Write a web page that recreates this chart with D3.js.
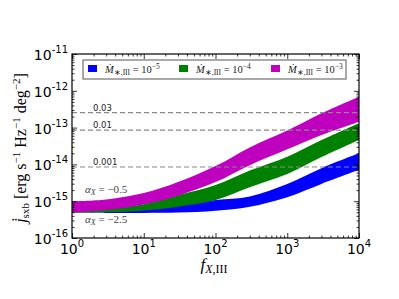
<!DOCTYPE html>
<html>
<head>
<meta charset="utf-8">
<script src="https://cdn.jsdelivr.net/npm/d3@7"></script>
<style>
  body { margin: 0; background: #fff; }
  svg { display: block; }
  .tick line { stroke: #000; }
</style>
</head>
<body>
<div id="chart"></div>
<script>
// Values (log-log).
const fX = [1, 3, 10, 30, 100, 300, 1000, 3000, 10000];

const m5Lower = [4.9e-16, 4.8e-16, 4.8e-16, 4.9e-16, 5.5e-16, 7.1e-16, 1.29e-15, 2.95e-15, 7.1e-15];
const m5Upper = [5.25e-16, 5.4e-16, 6.0e-16, 7.6e-16, 1.08e-15, 1.35e-15, 2.95e-15, 7.9e-15, 2.0e-14];

const m4Lower = [4.9e-16, 5.0e-16, 5.6e-16, 7.1e-16, 1.08e-15, 2.4e-15, 5.5e-15, 1.58e-14, 4.6e-14];
const m4Upper = [5.6e-16, 6.2e-16, 8.3e-16, 1.45e-15, 2.75e-15, 6.8e-15, 1.62e-14, 4.6e-14, 1.32e-13];

const m3Lower = [4.9e-16, 5.75e-16, 8.1e-16, 1.41e-15, 3.3e-15, 9.5e-15, 2.57e-14, 6.3e-14, 1.45e-13];
const m3Upper = [1.0e-15, 1.12e-15, 1.66e-15, 3.3e-15, 9.0e-15, 2.9e-14, 8.3e-14, 2.45e-13, 6.9e-13];

const seriesExp = ["−5", "−4", "−3"];
const seriesColors = ["#0000ff", "#008000", "#bf00bf"];

const fracLevels = [2.55e-13, 8.5e-14, 8.5e-15];
const fracLabels = ["0.03", "0.01", "0.001"];

const xTickExp = [0, 1, 2, 3, 4];
const yTickExp = [-16, -15, -14, -13, -12, -11];

const width = 399, height = 299;
const plotLeft = 72, plotRight = 359, plotTop = 54, plotBottom = 238;

const svg = d3.select("#chart").append("svg")
  .attr("width", width)
  .attr("height", height);

const x = d3.scaleLog().domain([1, 1e4]).range([plotLeft, plotRight]);
const y = d3.scaleLog().domain([1e-16, 1e-11]).range([plotBottom, plotTop]);

// Bands, blue first so magenta ends on top.
const bands = [
  [m5Lower, m5Upper],
  [m4Lower, m4Upper],
  [m3Lower, m3Upper]
];

const area = d3.area()
  .x(d => x(d.f))
  .y0(d => y(d.lo))
  .y1(d => y(d.hi))
  .curve(d3.curveCatmullRom.alpha(0.5));

const plot = svg.append("g");
bands.forEach((b, i) => {
  const rows = fX.map((f, k) => ({ f: f, lo: b[0][k], hi: b[1][k] }));
  plot.append("path")
    .datum(rows)
    .attr("fill", seriesColors[i])
    .attr("d", area);
});

// Dashed levels.
fracLevels.forEach((v, i) => {
  svg.append("line")
    .attr("x1", plotLeft).attr("x2", plotRight)
    .attr("y1", y(v)).attr("y2", y(v))
    .attr("stroke", "#8a8a8a")
    .attr("stroke-width", 1.2)
    .attr("stroke-dasharray", "5,3");
  svg.append("text")
    .attr("x", 93)
    .attr("y", y(v) - 2)
    .attr("font-family", "DejaVu Sans")
    .attr("font-size", 8.5)
    .attr("fill", "#222")
    .text(fracLabels[i]);
});

// Alpha annotations.
const alphaText = [["−0.5", 193], ["−2.5", 223]];
alphaText.forEach(a => {
  const t = svg.append("text")
    .attr("x", 85).attr("y", a[1])
    .attr("font-family", "Liberation Serif")
    .attr("font-size", 11)
    .attr("fill", "#444");
  t.append("tspan").attr("font-style", "italic").text("α");
  t.append("tspan").attr("font-style", "italic").attr("font-size", 8).attr("dy", 2).text("X");
  t.append("tspan").attr("dy", -2).text(" = " + a[0]);
});

// Ticks: inward on all four sides, majors and minors.
const xMajor = xTickExp.map(e => Math.pow(10, e));
const yMajor = yTickExp.map(e => Math.pow(10, e));
const xMinor = [], yMinor = [];
xTickExp.slice(0, -1).forEach(e => d3.range(2, 10).forEach(m => xMinor.push(m * Math.pow(10, e))));
yTickExp.slice(0, -1).forEach(e => d3.range(2, 10).forEach(m => yMinor.push(m * Math.pow(10, e))));

function ticks(axis, values, size, tx, ty) {
  const g = svg.append("g")
    .attr("transform", `translate(${tx},${ty})`)
    .call(axis.tickValues(values).tickSize(size).tickFormat(""));
  g.select(".domain").remove();
  g.selectAll("line").attr("stroke-width", 0.8);
}
ticks(d3.axisBottom(x), xMajor, -5, 0, plotBottom);
ticks(d3.axisBottom(x), xMinor, -2.5, 0, plotBottom);
ticks(d3.axisTop(x), xMajor, -5, 0, plotTop);
ticks(d3.axisTop(x), xMinor, -2.5, 0, plotTop);
ticks(d3.axisLeft(y), yMajor, -5, plotLeft, 0);
ticks(d3.axisLeft(y), yMinor, -2.5, plotLeft, 0);
ticks(d3.axisRight(y), yMajor, -5, plotRight, 0);
ticks(d3.axisRight(y), yMinor, -2.5, plotRight, 0);

// Frame.
svg.append("rect")
  .attr("x", plotLeft).attr("y", plotTop)
  .attr("width", plotRight - plotLeft).attr("height", plotBottom - plotTop)
  .attr("fill", "none")
  .attr("stroke", "#000")
  .attr("stroke-width", 1.2);

// Tick labels.
xTickExp.forEach(e => {
  const t = svg.append("text")
    .attr("x", x(Math.pow(10, e)))
    .attr("y", 254)
    .attr("text-anchor", "middle")
    .attr("font-family", "DejaVu Sans")
    .attr("font-size", 14);
  t.append("tspan").text("10");
  t.append("tspan").attr("dy", -7).attr("font-size", 10).text(e);
});
yTickExp.forEach(e => {
  const t = svg.append("text")
    .attr("x", 68)
    .attr("y", y(Math.pow(10, e)) + 6)
    .attr("text-anchor", "end")
    .attr("font-family", "DejaVu Sans")
    .attr("font-size", 14);
  t.append("tspan").text("10");
  t.append("tspan").attr("dy", -7).attr("font-size", 10).text(String(e));
});

// Axis labels.
const xl = svg.append("text")
  .attr("x", 214).attr("y", 270)
  .attr("text-anchor", "middle")
  .attr("font-family", "Liberation Serif")
  .attr("font-size", 17);
xl.append("tspan").attr("font-style", "italic").text("f");
xl.append("tspan").attr("font-size", 12).attr("dy", 3).attr("font-style", "italic").text("X");
xl.append("tspan").attr("font-size", 12).text(",III");

const yl = svg.append("text")
  .attr("transform", "translate(26,148) rotate(-90)")
  .attr("text-anchor", "middle")
  .attr("font-family", "Liberation Serif")
  .attr("font-size", 16);
yl.append("tspan").attr("font-style", "italic").text("j̇");
yl.append("tspan").attr("font-size", 11).attr("dy", 3).text("sxb");
yl.append("tspan").attr("dy", -3).text(" [erg s");
yl.append("tspan").attr("font-size", 11).attr("dy", -6).text("−1");
yl.append("tspan").attr("dy", 6).text(" Hz");
yl.append("tspan").attr("font-size", 11).attr("dy", -6).text("−1");
yl.append("tspan").attr("dy", 6).text(" deg");
yl.append("tspan").attr("font-size", 11).attr("dy", -6).text("−2");
yl.append("tspan").attr("dy", 6).text("]");

// Legend.
const legend = svg.append("g");
legend.append("rect")
  .attr("x", 83).attr("y", 60)
  .attr("width", 263).attr("height", 19)
  .attr("fill", "#fff")
  .attr("stroke", "#555")
  .attr("stroke-width", 1);
const legendX = [88, 179, 271];
seriesExp.forEach((ex, i) => {
  legend.append("rect")
    .attr("x", legendX[i]).attr("y", 65)
    .attr("width", 9).attr("height", 7)
    .attr("fill", seriesColors[i]);
  const t = legend.append("text")
    .attr("x", legendX[i] + 17).attr("y", 73)
    .attr("font-family", "Liberation Serif")
    .attr("font-size", 10.5)
    .attr("fill", "#222");
  t.append("tspan").attr("font-style", "italic").text("Ṁ");
  t.append("tspan").attr("font-size", 7.5).attr("dy", 2).text("∗,III");
  t.append("tspan").attr("dy", -2).text(" = 10");
  t.append("tspan").attr("font-size", 7.5).attr("dy", -4).text(ex);
});
</script>
</body>
</html>
